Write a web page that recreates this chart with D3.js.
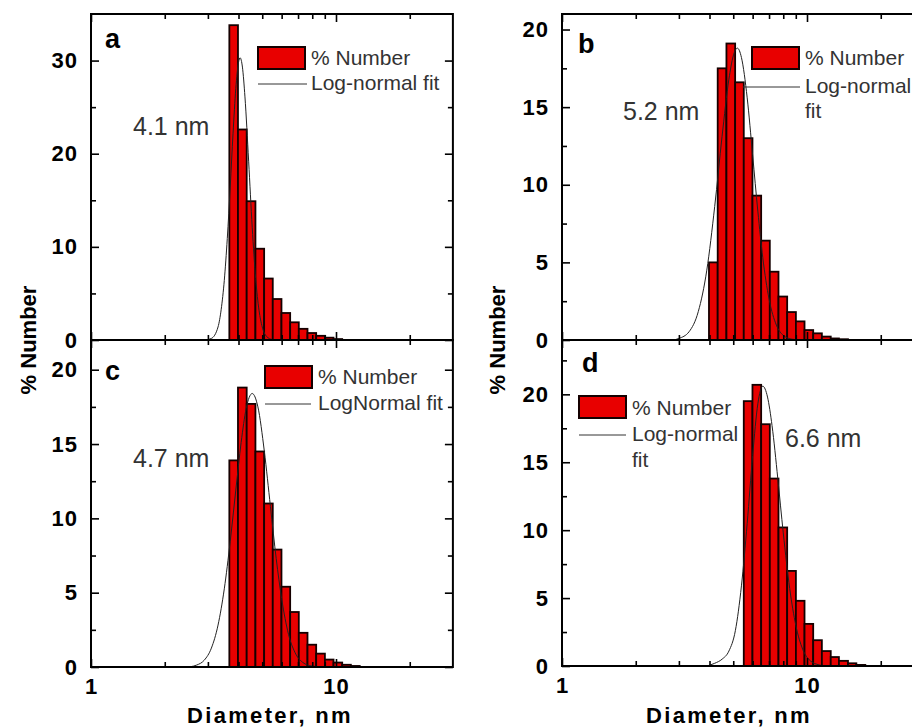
<!DOCTYPE html>
<html>
<head>
<meta charset="utf-8">
<script src="https://cdn.jsdelivr.net/npm/d3@7"></script>
<style>
    body { margin: 0; background: #fff; }
    text { font-family: "Liberation Sans", Arial, sans-serif; }
</style>
</head>
<body>
<div id="chart"></div>
<script>
// size classes (lower bin edges, nm), shared by all four histograms
const binEdges = [3.67, 3.98, 4.32, 4.69, 5.09, 5.52, 5.99, 6.50, 7.05, 7.65,
    8.30, 9.01, 9.77, 10.6, 11.5, 12.5, 13.5, 14.7, 15.9, 17.3];

// % number per bin; firstBin = index into binEdges of the first bar
const barsA = [33.8, 22.6, 14.9, 9.8, 6.6, 4.4, 2.9, 1.9, 1.2, 0.75, 0.45, 0.25, 0.1];
const barsB = [5.0, 17.5, 19.1, 16.6, 13.0, 9.3, 6.4, 4.4, 2.8, 1.8, 1.2, 0.64, 0.43, 0.22, 0.1, 0.05];
const barsC = [13.9, 18.8, 17.7, 14.5, 11.0, 7.9, 5.4, 3.7, 2.3, 1.5, 0.9, 0.5, 0.3, 0.15, 0.07];
const barsD = [19.5, 20.7, 17.8, 13.8, 10.2, 7.0, 4.8, 3.1, 1.9, 1.1, 0.66, 0.38, 0.2, 0.08];
const firstBin = { a: 0, b: 1, c: 0, d: 5 };

// log-normal fit curves, [diameter nm, % number]
const fitA = [[2.9, 0], [3.1, 0.17], [3.3, 1.4], [3.4, 3.3], [3.5, 6.4], [3.6, 10.9], [3.7, 16.4],
    [3.8, 22.2], [3.9, 27.0], [4.0, 29.8], [4.06, 30.3], [4.15, 29.3], [4.25, 26.1], [4.4, 19.2],
    [4.55, 12.1], [4.7, 6.6], [4.85, 3.2], [5.0, 1.4], [5.2, 0.4], [5.5, 0.05], [6.0, 0]];
const fitB = [[2.85, 0], [3.0, 0.1], [3.3, 0.53], [3.6, 1.83], [3.9, 4.5], [4.2, 8.6], [4.5, 13.1],
    [4.8, 16.8], [5.0, 18.3], [5.2, 18.8], [5.4, 18.2], [5.7, 15.6], [6.0, 11.9], [6.3, 8.3],
    [6.6, 5.3], [7.0, 2.64], [7.5, 0.96], [8.0, 0.3], [8.7, 0.05], [9.5, 0]];
const fitC = [[2.55, 0.02], [2.7, 0.13], [2.9, 0.46], [3.1, 1.27], [3.3, 2.82], [3.5, 5.26], [3.7, 8.45],
    [3.9, 11.9], [4.1, 15.1], [4.3, 17.4], [4.55, 18.4], [4.8, 17.5], [5.1, 14.5], [5.4, 10.8],
    [5.7, 7.3], [6.0, 4.6], [6.4, 2.2], [6.8, 0.98], [7.3, 0.32], [8.0, 0.06], [9.0, 0]];
const fitD = [[3.9, 0], [4.2, 0.2], [4.5, 0.5], [4.8, 1.1], [5.1, 2.6], [5.4, 5.9], [5.7, 10.5],
    [6.0, 15.5], [6.3, 19.3], [6.6, 20.6], [6.9, 19.8], [7.2, 17.7], [7.6, 13.8], [8.0, 9.8],
    [8.5, 5.7], [9.0, 3.0], [9.6, 1.24], [10.3, 0.39], [11.2, 0.08], [12, 0]];

// axis ticks
const xMajor = [1, 10];
const xMinor = [2, 3, 4, 5, 6, 7, 8, 9, 20];
const yMaxes = { a: 35, b: 21, c: 22, d: 24 };
const yMajorA = [0, 10, 20, 30], yMinorA = [5, 15, 25];
const yMajor20 = [0, 5, 10, 15, 20], yMinor20 = [2.5, 7.5, 12.5, 17.5, 22.5];

// labels
const peakLabels = { a: "4.1 nm", b: "5.2 nm", c: "4.7 nm", d: "6.6 nm" };
const legendBar = "% Number";
const legendFit = { a: ["Log-normal fit"], b: ["Log-normal", "fit"], c: ["LogNormal fit"], d: ["Log-normal", "fit"] };

const width = 912, height = 727;
const decade = 245;

const svg = d3.select("#chart").append("svg")
    .attr("width", width)
    .attr("height", height);

// panel placement
const panels = [
    { id: "a", bars: barsA, fit: fitA, x0: 91, top: 14, bottom: 340, yMajor: yMajorA, yMinor: yMinorA, xLabels: false,
      peak: [133, 135], legend: { x: 258, y: 47, lineX: 258, lineW: 49, textY: [65, 90], lh: 25 }, letter: [105, 48] },
    { id: "c", bars: barsC, fit: fitC, x0: 91, top: 340, bottom: 667, yMajor: yMajor20, yMinor: yMinor20, xLabels: true,
      peak: [133, 467], legend: { x: 265, y: 366, lineX: 265, lineW: 46, textY: [384, 410], lh: 25 }, letter: [105, 380] },
    { id: "b", bars: barsB, fit: fitB, x0: 562, top: 14, bottom: 340, yMajor: yMajor20, yMinor: yMinor20, xLabels: false,
      peak: [623, 120], legend: { x: 752, y: 47, lineX: 743, lineW: 57, textY: [65, 93], lh: 25 }, letter: [578, 53] },
    { id: "d", bars: barsD, fit: fitD, x0: 562, top: 340, bottom: 666, yMajor: yMajor20, yMinor: yMinor20, xLabels: true,
      peak: [785, 447], legend: { x: 579, y: 396, lineX: 579, lineW: 47, textY: [415, 441], lh: 26 }, letter: [582, 372] }
];

panels.forEach(p => drawPanel(p));

function drawPanel(p) {
    const x1 = p.x0 + Math.log10(30) * decade;
    const x = d3.scaleLog().domain([1, 30]).range([p.x0, x1]);
    const y = d3.scaleLinear().domain([0, yMaxes[p.id]]).range([p.bottom, p.top]);

    const g = svg.append("g");

    // bars
    const start = firstBin[p.id];
    g.selectAll("rect.bar")
        .data(p.bars)
        .join("rect")
        .attr("class", "bar")
        .attr("x", (d, i) => x(binEdges[start + i]))
        .attr("width", (d, i) => x(binEdges[start + i + 1]) - x(binEdges[start + i]))
        .attr("y", d => y(d))
        .attr("height", d => y(0) - y(d))
        .style("fill", "#e80000")
        .style("stroke", "#150000")
        .style("stroke-width", 1.8);

    // fit curve on top
    const line = d3.line()
        .x(d => x(d[0]))
        .y(d => y(d[1]))
        .curve(d3.curveMonotoneX);
    g.append("path")
        .datum(p.fit)
        .attr("d", line)
        .style("fill", "none")
        .style("stroke", "#222")
        .style("stroke-width", 1);

    // axes, ticks pointing inward on all four sides
    const tickStyle = sel => {
        sel.select(".domain").remove();
        sel.selectAll(".tick line").style("stroke", "#000").style("stroke-width", 1.6);
    };
    const yLab = g.append("g").attr("transform", `translate(${p.x0},0)`)
        .call(d3.axisLeft(y).tickValues(p.yMajor).tickSize(-8).tickPadding(13).tickSizeOuter(0));
    yLab.call(tickStyle);
    yLab.selectAll("text").style("font-size", "22px").style("font-weight", "bold")
        .style("letter-spacing", "1px").style("fill", "#000").style("font-family", "'Liberation Sans', Arial, sans-serif");
    const ym = p.yMinor.filter(v => v < yMaxes[p.id]);
    g.append("g").attr("transform", `translate(${p.x0},0)`)
        .call(d3.axisLeft(y).tickValues(ym).tickSize(-5).tickFormat("")).call(tickStyle);
    g.append("g").attr("transform", `translate(${x1},0)`)
        .call(d3.axisRight(y).tickValues(p.yMajor).tickSize(-8).tickFormat("")).call(tickStyle);
    g.append("g").attr("transform", `translate(${x1},0)`)
        .call(d3.axisRight(y).tickValues(ym).tickSize(-5).tickFormat("")).call(tickStyle);

    const xb = g.append("g").attr("transform", `translate(0,${p.bottom})`)
        .call(d3.axisBottom(x).tickValues(xMajor).tickSize(-8).tickPadding(11)
            .tickFormat(p.xLabels ? d3.format("d") : ""));
    xb.call(tickStyle);
    xb.selectAll("text").style("font-size", "22px").style("font-weight", "bold")
        .style("letter-spacing", "1px").style("fill", "#000").style("font-family", "'Liberation Sans', Arial, sans-serif");
    g.append("g").attr("transform", `translate(0,${p.bottom})`)
        .call(d3.axisBottom(x).tickValues(xMinor).tickSize(-5).tickFormat("")).call(tickStyle);
    g.append("g").attr("transform", `translate(0,${p.top})`)
        .call(d3.axisTop(x).tickValues(xMajor).tickSize(-8).tickFormat("")).call(tickStyle);
    g.append("g").attr("transform", `translate(0,${p.top})`)
        .call(d3.axisTop(x).tickValues(xMinor).tickSize(-5).tickFormat("")).call(tickStyle);

    // frame
    g.append("rect")
        .attr("x", p.x0).attr("y", p.top)
        .attr("width", x1 - p.x0).attr("height", p.bottom - p.top)
        .style("fill", "none").style("stroke", "#000").style("stroke-width", 2);

    // panel letter
    g.append("text")
        .attr("x", p.letter[0]).attr("y", p.letter[1])
        .style("font-size", "27px").style("font-weight", "bold")
        .text(p.id);

    // peak label
    g.append("text")
        .attr("x", p.peak[0]).attr("y", p.peak[1])
        .style("font-size", "25px").style("fill", "#333")
        .text(peakLabels[p.id]);

    // legend
    const L = p.legend;
    g.append("rect")
        .attr("x", L.x).attr("y", L.y).attr("width", 47).attr("height", 22)
        .style("fill", "#e80000").style("stroke", "#150000").style("stroke-width", 2);
    const tx = L.x + 53;
    g.append("text").attr("x", tx).attr("y", L.textY[0])
        .style("font-size", "21px").style("fill", "#333").text(legendBar);
    g.append("line")
        .attr("x1", L.lineX).attr("x2", L.lineX + L.lineW)
        .attr("y1", L.textY[1] - 6).attr("y2", L.textY[1] - 6)
        .style("stroke", "#333").style("stroke-width", 1);
    legendFit[p.id].forEach((t, i) => {
        g.append("text").attr("x", tx).attr("y", L.textY[1] + i * L.lh)
            .style("font-size", "21px").style("fill", "#333").text(t);
    });
}

// axis titles
[28, 497].forEach(cx => {
    svg.append("text")
        .attr("transform", `translate(${cx + 8},340) rotate(-90)`)
        .attr("text-anchor", "middle")
        .style("font-size", "22px").style("font-weight", "bold")
        .text("% Number");
});
[270, 729].forEach(cx => {
    svg.append("text")
        .attr("x", cx).attr("y", 723)
        .attr("text-anchor", "middle")
        .style("font-size", "22px").style("font-weight", "bold")
        .style("letter-spacing", "2.3px")
        .text("Diameter, nm");
});
</script>
</body>
</html>
